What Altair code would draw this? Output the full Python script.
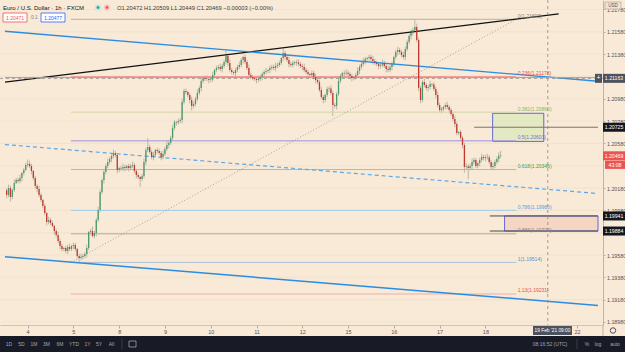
import altair as alt
import pandas as pd

FONT = "Liberation Sans"

# ---------------- data ----------------
# hourly EUR/USD candles, hour index counted on the trading-hour axis from 4 Feb 00:00 UTC
first_hour = -11
first_open = 1.20160
closes = [
    1.20118, 1.20181, 1.20100, 1.20163, 1.20225, 1.20252, 1.20243, 1.20270, 1.20315, 1.20342,
    1.20387, 1.20396, 1.20378, 1.20333, 1.20270, 1.20198, 1.20172, 1.20118, 1.20073, 1.20019,
    1.19957, 1.19876, 1.19894, 1.19867, 1.19840, 1.19795, 1.19759, 1.19706, 1.19661, 1.19634,
    1.19643, 1.19616, 1.19652, 1.19634, 1.19661, 1.19670, 1.19634, 1.19571, 1.19553, 1.19562,
    1.19571, 1.19589, 1.19643, 1.19786, 1.19795, 1.19750, 1.19777, 1.19894, 1.19983, 1.20145,
    1.20252, 1.20324, 1.20378, 1.20414, 1.20440, 1.20467, 1.20494, 1.20476, 1.20342, 1.20360,
    1.20355, 1.20369, 1.20360, 1.20378, 1.20360, 1.20378, 1.20387, 1.20333, 1.20297, 1.20279,
    1.20261, 1.20288, 1.20414, 1.20521, 1.20548, 1.20503, 1.20458, 1.20476, 1.20521, 1.20512,
    1.20494, 1.20458, 1.20485, 1.20530, 1.20566, 1.20584, 1.20629, 1.20718, 1.20772, 1.20768,
    1.20781, 1.20790, 1.20951, 1.21050, 1.21041, 1.21014, 1.20969, 1.20915, 1.20933, 1.20978,
    1.21032, 1.21077, 1.21139, 1.21166, 1.21160, 1.21157, 1.21148, 1.21152, 1.21193, 1.21238,
    1.21256, 1.21265, 1.21247, 1.21274, 1.21310, 1.21363, 1.21301, 1.21238, 1.21220, 1.21211,
    1.21238, 1.21265, 1.21283, 1.21327, 1.21354, 1.21310, 1.21256, 1.21193, 1.21175, 1.21166,
    1.21157, 1.21148, 1.21157, 1.21175, 1.21202, 1.21220, 1.21229, 1.21238, 1.21256, 1.21265,
    1.21256, 1.21274, 1.21283, 1.21301, 1.21345, 1.21390, 1.21354, 1.21327, 1.21292, 1.21283,
    1.21301, 1.21310, 1.21305, 1.21292, 1.21274, 1.21265, 1.21238, 1.21220, 1.21202, 1.21193,
    1.21211, 1.21175, 1.21148, 1.21130, 1.21059, 1.20996, 1.20969, 1.21014, 1.21068, 1.21072,
    1.21032, 1.20924, 1.20915, 1.21023, 1.21139, 1.21184, 1.21211, 1.21206, 1.21214, 1.21202,
    1.21184, 1.21166, 1.21175, 1.21193, 1.21229, 1.21265, 1.21292, 1.21318, 1.21336, 1.21345,
    1.21354, 1.21336, 1.21318, 1.21301, 1.21292, 1.21274, 1.21283, 1.21301, 1.21274, 1.21247,
    1.21238, 1.21265, 1.21292, 1.21354, 1.21399, 1.21417, 1.21399, 1.21372, 1.21354, 1.21426,
    1.21489, 1.21542, 1.21569, 1.21596, 1.21623, 1.21507, 1.21077, 1.20969, 1.21130, 1.21103,
    1.21077, 1.21086, 1.21112, 1.21108, 1.21068, 1.21014, 1.20924, 1.20879, 1.20888, 1.20906,
    1.20924, 1.20906, 1.20879, 1.20844, 1.20799, 1.20754, 1.20673, 1.20682, 1.20629, 1.20566,
    1.20369, 1.20374, 1.20360, 1.20378, 1.20414, 1.20431, 1.20378, 1.20405, 1.20431, 1.20458,
    1.20449, 1.20458, 1.20455, 1.20414, 1.20369, 1.20378, 1.20414, 1.20440, 1.20472, 1.20469,
]
up_wick_pips = [
    2, 3, 2, 1, 3, 2, 2, 3, 1, 2, 2, 4, 3, 2, 1, 2, 2, 3, 2, 1,
    2, 1, 3, 2, 2, 1, 2, 3, 2, 2, 1, 2, 2, 3, 1, 2, 2, 1, 2, 3,
    2, 2, 3, 1, 2, 4, 2, 2, 3, 2, 1, 2, 2, 3, 2, 2, 3, 2, 2, 1,
    2, 3, 2, 1, 2, 2, 3, 2, 2, 2, 1, 2, 3, 2, 8, 2, 2, 3, 1, 2,
    2, 2, 3, 2, 4, 2, 2, 3, 2, 1, 2, 2, 3, 2, 2, 1, 2, 3, 2, 2,
    3, 2, 2, 1, 2, 3, 2, 2, 3, 1, 2, 2, 3, 2, 2, 5, 2, 3, 2, 1,
    2, 2, 3, 2, 1, 2, 2, 3, 2, 2, 1, 2, 3, 2, 2, 2, 3, 1, 2, 2,
    2, 3, 2, 2, 1, 4, 2, 2, 3, 2, 2, 1, 2, 3, 2, 2, 3, 2, 2, 1,
    2, 2, 3, 2, 2, 3, 2, 1, 2, 2, 3, 2, 2, 2, 3, 2, 1, 2, 3, 2,
    2, 2, 1, 2, 3, 2, 2, 3, 2, 1, 2, 2, 3, 2, 2, 1, 2, 3, 2, 2,
    3, 2, 2, 1, 2, 3, 2, 2, 3, 2, 2, 2, 3, 2, 7, 3, 2, 2, 2, 3,
    2, 2, 3, 1, 2, 2, 3, 2, 2, 1, 2, 3, 2, 2, 2, 3, 2, 1, 2, 2,
    2, 3, 2, 2, 3, 2, 2, 1, 2, 3, 2, 2, 3, 2, 2, 3, 2, 2, 3, 4,
]
down_wick_pips = [
    3, 2, 4, 2, 2, 1, 2, 2, 3, 2, 1, 2, 2, 3, 2, 2, 3, 2, 2, 2,
    2, 3, 2, 2, 1, 3, 2, 2, 3, 2, 2, 2, 3, 2, 2, 3, 2, 2, 4, 2,
    2, 2, 3, 2, 2, 1, 2, 3, 2, 2, 2, 3, 2, 2, 2, 3, 2, 2, 3, 2,
    2, 2, 3, 2, 3, 2, 2, 2, 3, 2, 7, 2, 2, 3, 2, 2, 2, 3, 2, 2,
    2, 3, 2, 2, 2, 3, 2, 2, 2, 3, 2, 2, 3, 2, 2, 2, 3, 4, 2, 2,
    2, 2, 3, 2, 2, 2, 3, 2, 2, 3, 2, 2, 2, 3, 2, 2, 3, 2, 2, 2,
    3, 2, 2, 2, 3, 2, 2, 3, 2, 2, 2, 3, 2, 2, 3, 2, 2, 2, 3, 2,
    2, 3, 2, 2, 2, 3, 2, 2, 3, 2, 2, 2, 3, 2, 2, 3, 2, 2, 2, 3,
    2, 2, 3, 2, 2, 2, 3, 2, 2, 3, 2, 10, 2, 3, 2, 2, 2, 3, 2, 2,
    2, 3, 2, 2, 2, 3, 2, 2, 3, 2, 2, 2, 3, 2, 2, 3, 2, 2, 2, 3,
    2, 2, 3, 2, 2, 3, 2, 2, 2, 3, 2, 2, 3, 2, 2, 2, 3, 3, 2, 2,
    2, 3, 2, 2, 2, 3, 2, 2, 3, 2, 2, 2, 3, 2, 2, 3, 2, 2, 2, 3,
    5, 2, 10, 2, 3, 2, 2, 2, 3, 2, 2, 3, 2, 2, 2, 3, 2, 2, 3, 2,
]

day_hours = [0, 24, 48, 72, 96, 120, 144, 168, 192, 216, 240, 288]
day_labels = ["4", "5", "8", "9", "10", "11", "12", "15", "16", "17", "18", "22"]
# price grid; the labels of 1.21180, 1.20380 and 1.19780 sit under price badges in the picture
grid_prices = [1.18980, 1.19180, 1.19380, 1.19580, 1.19780, 1.19980, 1.20180, 1.20380,
               1.20580, 1.20780, 1.20980, 1.21180, 1.21380, 1.21580, 1.21780]
labelled_prices = [1.18980, 1.19180, 1.19380, 1.19580, 1.19980, 1.20180,
                   1.20580, 1.20780, 1.20980, 1.21380, 1.21580, 1.21780]

# Fibonacci retracement
fib_levels = ["0", "0.236", "0.382", "0.5", "0.618", "0.786", "0.886", "1", "1.13"]
fib_prices = [1.21692, 1.21178, 1.20860, 1.20603, 1.20346, 1.19980, 1.19770, 1.19514, 1.19231]
fib_line_colors = ["#b9b1a3", "#f29088", "#d3d6a6", "#9d90e0", "#92cba3", "#9fcdf0", "#b3a896", "#a9c0d8", "#f3aaa8"]
fib_text_colors = ["#8d867a", "#e5534b", "#8db46a", "#7b6dd0", "#43a047", "#4fa3ea", "#8d867a", "#5b8fd6", "#e5534b"]
fib_from_hour = 22.7
fib_to_hour = 256.2
fib_label_hour = 256.9

# solid drawings (start hour, start price, end hour, end price)
solid_names = ["black channel", "blue channel top", "blue channel bottom", "red level",
               "ray 1.20725", "ray 1.19941", "ray 1.19884"]
solid_h1 = [-11.86, -11.86, -11.86, -11.86, 234.1, 242.3, 242.3]
solid_p1 = [1.21130, 1.21585, 1.19565, 1.21170, 1.20725, 1.19930, 1.19795]
solid_h2 = [278.4, 299.03, 299.03, 299.03, 299.03, 299.03, 299.03]
solid_p2 = [1.21740, 1.21137, 1.19128, 1.21170, 1.20725, 1.19930, 1.19795]
solid_colors = ["#111111", "#2a8de2", "#2a8de2", "#f08780", "#77736c", "#4a4a4a", "#4a4a4a"]
solid_widths = [1.3, 1.3, 1.5, 1.0, 1.0, 1.0, 1.0]

# dashed blue channel mid line
dash_h1, dash_p1, dash_h2, dash_p2 = -11.86, 1.20570, 299.03, 1.20131
# crosshair
cross_hour = 272.7
cross_price = 1.21163

# rectangles
box_h1 = [243.8, 250.05]
box_h2 = [270.6, 299.03]
box_top = [1.20850, 1.19930]
box_bottom = [1.20598, 1.19795]
box_fill = ["#e2eac2", "#f5d5c2"]

# price badges on the right scale
badge_prices = [1.21163, 1.20725, 1.20469, 1.19930, 1.19795]
badge_texts = ["1.21163", "1.20725", "1.20469", "1.19941", "1.19884"]
badge_colors = ["#4c525e", "#131722", "#ef5350", "#131722", "#131722"]

toolbar_items = ["1D", "5D", "1M", "3M", "6M", "YTD", "1Y", "5Y", "All"]

# ---------------- build tables ----------------
assert len(closes) == len(up_wick_pips) == len(down_wick_pips)
rows = []
prev = first_open
for i, c in enumerate(closes):
    o = prev
    rows.append(dict(t=first_hour + i, open=o, close=c,
                     high=max(o, c) + up_wick_pips[i] * 0.0001,
                     low=min(o, c) - down_wick_pips[i] * 0.0001,
                     dir="up" if c >= o else "down"))
    prev = c
candles = pd.DataFrame(rows)

fib = pd.DataFrame(dict(
    price=fib_prices, lc=fib_line_colors, tc=fib_text_colors,
    label=[f"{l}({p:.5f})" for l, p in zip(fib_levels, fib_prices)],
    h1=fib_from_hour, h2=fib_to_hour, hl=fib_label_hour))
solid = pd.DataFrame(dict(h1=solid_h1, p1=solid_p1, h2=solid_h2, p2=solid_p2,
                          col=solid_colors, w=solid_widths))
dashed = pd.DataFrame(dict(h1=[dash_h1], p1=[dash_p1], h2=[dash_h2], p2=[dash_p2]))
diag = pd.DataFrame(dict(h1=[fib_from_hour], p1=[fib_prices[-2]], h2=[fib_to_hour], p2=[fib_prices[0]]))
boxes = pd.DataFrame(dict(h1=box_h1, h2=box_h2, top=box_top, bottom=box_bottom, fill=box_fill))
badges = pd.DataFrame(dict(price=badge_prices, text=badge_texts, bg=badge_colors))
grid = pd.DataFrame(dict(p=grid_prices))
one = pd.DataFrame({"k": [0]})

X_DOMAIN = [-11.858, 299.03]
Y_DOMAIN = [1.18953, 1.21865]
xs = alt.Scale(domain=X_DOMAIN, nice=False, zero=False)
ys = alt.Scale(domain=Y_DOMAIN, nice=False, zero=False)

label_expr = ("[" + ",".join(f"'{s}'" for s in day_labels) + "][indexof(["
              + ",".join(str(h) for h in day_hours) + "], datum.value)]")

x_axis = alt.Axis(values=day_hours, labelExpr=label_expr, grid=False, domainColor="#cdc4b4",
                  tickColor="#b3aa9a", tickSize=3, labelFontSize=5.5, labelColor="#50535e",
                  labelPadding=1.5, title=None, labelFont=FONT, labelFlush=False, labelOverlap=False)
y_axis = alt.Axis(orient="right", values=labelled_prices, format=".5f", grid=False,
                  domainColor="#bdb4a5", tickColor="#bdb4a5", tickSize=2,
                  labelFontSize=5.3, labelColor="#50535e", labelPadding=1.5, title=None,
                  labelFont=FONT, labelFlush=False, labelOverlap=False)


def X(f):
    return alt.X(f, type="quantitative", scale=xs, axis=x_axis)


def Y(f):
    return alt.Y(f, type="quantitative", scale=ys, axis=y_axis)


UP, DOWN = "#4a9a6e", "#c0392f"

grid_layer = alt.Chart(grid).mark_rule(color="#eedfc9", strokeWidth=0.7).encode(
    y=Y("p"), x=alt.value(0), x2=alt.value(603))

box_layer = alt.Chart(boxes).mark_rect(stroke="#5c63d6", strokeWidth=1, opacity=0.95).encode(
    x=X("h1"), x2="h2", y=Y("top"), y2="bottom", fill=alt.Fill("fill:N", scale=None))

fib_lines = alt.Chart(fib).mark_rule(strokeWidth=1).encode(
    x=X("h1"), x2="h2", y=Y("price"), color=alt.Color("lc:N", scale=None))

fib_text = alt.Chart(fib).mark_text(align="left", baseline="bottom", dy=-0.5, fontSize=5,
                                    font=FONT).encode(
    x=X("hl"), y=Y("price"), text="label:N", color=alt.Color("tc:N", scale=None))

diag_layer = alt.Chart(diag).mark_rule(strokeWidth=0.8, strokeDash=[1, 2], color="#8f8f8f").encode(
    x=X("h1"), x2="h2", y=Y("p1"), y2="p2")

solid_layer = alt.Chart(solid).mark_rule().encode(
    x=X("h1"), x2="h2", y=Y("p1"), y2="p2",
    color=alt.Color("col:N", scale=None), strokeWidth=alt.StrokeWidth("w:Q", scale=None))

dashed_layer = alt.Chart(dashed).mark_rule(strokeWidth=1.2, strokeDash=[4, 3], color="#5aa8ec").encode(
    x=X("h1"), x2="h2", y=Y("p1"), y2="p2")

cross_v = alt.Chart(one).mark_rule(strokeWidth=0.8, strokeDash=[3, 3], color="#8a8a8a").encode(
    x=X("cx"), y=alt.value(0), y2=alt.value(325)
).transform_calculate(cx=str(cross_hour))
cross_h = alt.Chart(one).mark_rule(strokeWidth=0.8, strokeDash=[3, 3], color="#8a8a8a").encode(
    y=Y("cy"), x=alt.value(0), x2=alt.value(603)
).transform_calculate(cy=str(cross_price))

wicks = alt.Chart(candles).mark_rule(strokeWidth=0.7, color="#a59f95").encode(
    x=X("t"), y=Y("low"), y2="high")
bodies = alt.Chart(candles).mark_bar(size=1.3).encode(
    x=X("t"), y=Y("open"), y2="close",
    color=alt.Color("dir:N", scale=alt.Scale(domain=["up", "down"], range=[UP, DOWN]), legend=None))

BADGE = "M-1,-0.41L1,-0.41L1,0.41L-1,0.41Z"
badge_box = alt.Chart(badges).mark_point(shape=BADGE, size=484, filled=True, opacity=1).encode(
    x=alt.value(614), y=Y("price"), color=alt.Color("bg:N", scale=None))
badge_txt = alt.Chart(badges).mark_text(fontSize=5.2, font=FONT, color="white").encode(
    x=alt.value(614), y=Y("price"), text="text:N")
timer_box = alt.Chart(one).mark_point(shape=BADGE, size=400, filled=True, opacity=1,
                                      color="#ef5350", yOffset=9).encode(
    x=alt.value(615), y=Y("p")).transform_calculate(p=str(badge_prices[2]))
timer_txt = alt.Chart(one).mark_text(fontSize=5.2, font=FONT, color="white", dy=9).encode(
    x=alt.value(615), y=Y("p"), text=alt.value("43:08")
).transform_calculate(p=str(badge_prices[2]))
plus_box = alt.Chart(one).mark_point(shape="M-0.78,-1L0.78,-1L0.78,1L-0.78,1Z", size=81, filled=True,
                                     opacity=1, color="#4c525e").encode(
    x=alt.value(598.5), y=Y("p")).transform_calculate(p=str(cross_price))
plus_txt = alt.Chart(one).mark_text(fontSize=7, font=FONT, color="white").encode(
    x=alt.value(598.5), y=Y("p"), text=alt.value("+")
).transform_calculate(p=str(cross_price))


def txt(s, x, y, size=5.5, color="#131722", align="left"):
    return alt.Chart(one).mark_text(fontSize=size, font=FONT, color=color, align=align,
                                    baseline="middle").encode(
        x=alt.value(x), y=alt.value(y), text=alt.value(s))


def sym(x, y, size, color, shape="circle", filled=True, stroke=None, sw=1):
    kw = dict(shape=shape, size=size, filled=filled, opacity=1)
    if filled:
        kw["color"] = color
    else:
        kw["stroke"] = stroke
        kw["strokeWidth"] = sw
        kw["fill"] = color
    return alt.Chart(one).mark_point(**kw).encode(x=alt.value(x), y=alt.value(y))


def rect(x1, x2, y1, y2, fill, stroke=None):
    kw = dict(fill=fill)
    if stroke:
        kw["stroke"] = stroke
        kw["strokeWidth"] = 0.8
    return alt.Chart(one).mark_rect(**kw).encode(
        x=alt.value(x1), x2=alt.value(x2), y=alt.value(y1), y2=alt.value(y2))


# chrome: header, toolbar, time tooltip
chrome = [
    txt("Euro / U.S. Dollar · 1h · FXCM", 3, 7.5, 6),
    sym(98, 7.5, 40, "#cfe6d6"), sym(98, 7.5, 8, "#26a69a"),
    sym(107, 7.5, 40, "#f6c9c9"), sym(107, 7.5, 8, "#ef5350"),
    txt("O1.20472  H1.20509  L1.20449  C1.20469  −0.00003 (−0.00%)", 117, 7.5, 5.8, "#3c3c3c"),
    rect(3, 27, 13, 22, "#ffffff", "#ef5350"), txt("1.20471", 15, 17.5, 5, "#ef5350", "center"),
    txt("0.1", 31, 17.5, 4.8, "#787b86"),
    rect(41, 65, 13, 22, "#ffffff", "#2962ff"), txt("1.20477", 53, 17.5, 5, "#2962ff", "center"),
    rect(605, 621, 2, 9, "#f3e4cf", "#b5ad9f"), txt("USD", 613, 5.5, 4.6, "#50535e", "center"),
    alt.Chart(one).mark_rule(color="#bdb4a5", strokeWidth=1).encode(
        x=alt.value(603), y=alt.value(325), y2=alt.value(336)),
    rect(533, 572, 326, 335, "#4c525e"),
    txt("19 Feb '21   09:00", 552.5, 330.5, 4.8, "#ffffff", "center"),
    sym(613, 330.5, 30, "#f8ead6", filled=False, stroke="#50535e", sw=1),
    rect(0, 625, 336, 352, "#181b25"),
]
toolbar_x = [9, 21.5, 34, 46.5, 60, 74, 87.5, 99, 111.5]
for s, x in zip(toolbar_items, toolbar_x):
    chrome.append(txt(s, x, 344, 5, "#a3a6af", "center"))
chrome += [
    alt.Chart(one).mark_rule(color="#3a3e4a", strokeWidth=1).encode(
        x=alt.value(122), y=alt.value(339), y2=alt.value(349)),
    rect(129, 136, 341, 347, "#181b25", "#a3a6af"),
    txt("08:16:52 (UTC)", 550, 344, 5, "#a3a6af", "center"),
    alt.Chart(one).mark_rule(color="#3a3e4a", strokeWidth=1).encode(
        x=alt.value(577), y=alt.value(339), y2=alt.value(349)),
    txt("%", 587, 344, 5, "#a3a6af", "center"),
    txt("log", 598, 344, 5, "#a3a6af", "center"),
    txt("auto", 615, 344, 5, "#a3a6af", "center"),
]

chart = alt.layer(
    grid_layer, wicks, box_layer, fib_lines, diag_layer, dashed_layer, solid_layer, cross_h, cross_v,
    bodies, fib_text, badge_box, badge_txt, timer_box, timer_txt, plus_box, plus_txt, *chrome
).properties(
    width=603, height=325,
    padding={"left": 0, "top": 0, "right": 22, "bottom": 27},
    autosize=alt.AutoSizeParams(type="none"),
).configure(background="#f8ead6").configure_view(stroke=None)

chart.save("out.html", embed_options={"renderer": "svg", "actions": False})
